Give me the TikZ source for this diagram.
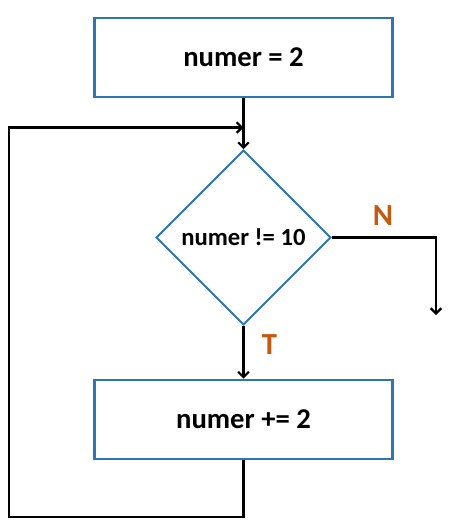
\documentclass[tikz,border=0pt]{standalone}
\usepackage{fontspec}
\setmainfont{Carlito}
\usetikzlibrary{arrows.meta,shapes.geometric}
\definecolor{BoxClr}{rgb}{0.18,0.46,0.71}
\definecolor{BranchClr}{rgb}{0.77,0.35,0.07}

\begin{document}
\begin{tikzpicture}[x=0.75pt,y=-0.75pt]
\tikzset{
  procbox/.style={draw=BoxClr,line width=1.6pt,minimum width=223.5pt,minimum height=59.5pt,
    inner sep=0pt,font=\fontsize{21.5}{25}\selectfont\bfseries},
  decbox/.style={diamond,aspect=1,draw=BoxClr,line width=1.4pt,minimum width=131pt,
    minimum height=131pt,inner sep=0pt,font=\fontsize{18.5}{22}\selectfont\bfseries},
  flow/.style={draw=black,line width=1.6pt,-{Straight Barb[length=4pt,width=8pt]}},
  branch/.style={text=BranchClr,font=\fontsize{23}{26}\selectfont\bfseries}
}
\useasboundingbox (0,0) rectangle (450,529);

% The three blocks of the loop.
\node[procbox] (init) at (243.5,57.3) {numer = 2};
\node[decbox]  (cond) at (243.5,237.5) {numer != 10};
\node[procbox] (incr) at (243.5,419.3) {numer += 2};

% Points where the connectors bend or end.
\coordinate (exit) at (436,315);
\coordinate (back) at (9,517);
\coordinate (join) at (243.5,127.5);

% Connectors.
\draw[flow] (init) -- (cond);
\draw[flow] (cond) -- (incr);
\draw[flow] (cond.east) -| (exit);
\draw[flow] (incr.south) |- (back) |- (join);

% Branch labels.
\node[branch] (no)  at (383,216) {N};
\node[branch] (yes) at (269.5,345) {T};

\end{tikzpicture}
\end{document}
